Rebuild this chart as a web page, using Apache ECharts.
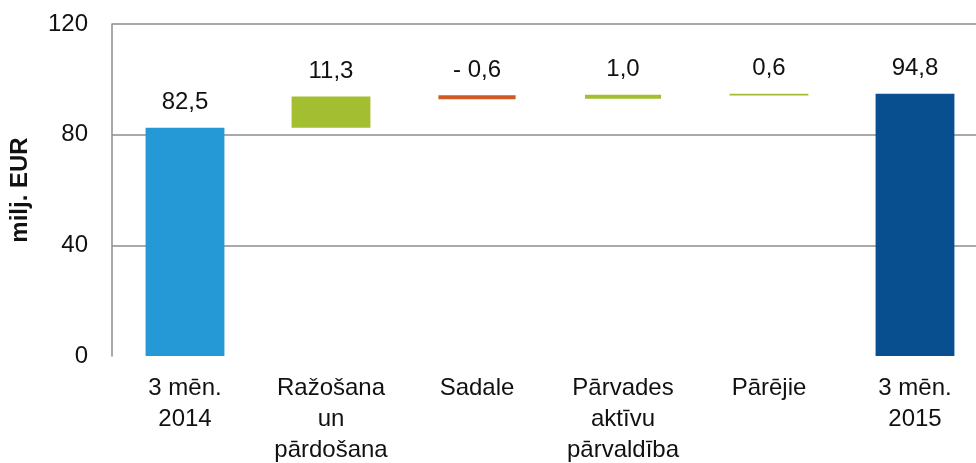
<!DOCTYPE html>
<html>
<head>
<meta charset="utf-8">
<script src="https://cdn.jsdelivr.net/npm/echarts@6/dist/echarts.min.js"></script>
<style>
  html,body{margin:0;padding:0;background:#fff;}
  #chart{width:976px;height:463px;}
</style>
</head>
<body>
<div id="chart"></div>
<script>
// dati
const categories = ['3 mēn.\n2014', 'Ražošana\nun\npārdošana', 'Sadale', 'Pārvades\naktīvu\npārvaldība', 'Pārējie', '3 mēn.\n2015']
const values = [82.5, 11.3, -0.6, 1.0, 0.6, 94.8]
const isTotal = [true, false, false, false, false, true]
const barColors = ['#2499D6', '#A3BE31', '#D05A24', '#A3BE31', '#A3BE31', '#074F8F']
const yTicks = [0, 40, 80, 120]

// mazajiem stabiņiem apmale, lai tie būtu redzami
const thinBorder = [0, 0, 4, 4, 1.5, 0]

// pamatne un redzamā daļa
let running = 0
const baseData = []
const barData = []
values.forEach((v, i) => {
  let base, h
  if (isTotal[i]) {
    base = 0
    h = v
    running = v
  } else if (v >= 0) {
    base = running
    h = v
    running += v
  } else {
    running += v
    base = running
    h = -v
  }
  baseData.push(base)
  barData.push({
    value: h,
    raw: v,
    itemStyle: {
      color: barColors[i],
      borderColor: barColors[i],
      borderWidth: thinBorder[i]
    }
  })
})

function fmt(v){
  const s = Math.abs(v).toFixed(1).replace('.', ',')
  return v < 0 ? '- ' + s : s
}

const chart = echarts.init(document.getElementById('chart'))
const font = 'Liberation Sans, Arial, sans-serif'

chart.setOption({
  animation: false,
  grid: {left: 112, top: 24, width: 876, bottom: 107, outerBoundsMode: 'none', containLabel: false},
  xAxis: {
    type: 'category',
    data: categories,
    axisLine: {show: false},
    axisTick: {show: false},
    axisLabel: {
      color: '#111',
      fontFamily: font,
      fontSize: 24,
      lineHeight: 31,
      margin: 17,
      interval: 0
    }
  },
  yAxis: {
    type: 'value',
    min: yTicks[0],
    max: yTicks[yTicks.length - 1],
    interval: 40,
    name: 'milj. EUR',
    nameLocation: 'middle',
    nameRotate: 90,
    nameGap: 80,
    nameTextStyle: {color: '#111', fontFamily: font, fontSize: 24, fontWeight: 'bold'},
    axisLine: {show: true, lineStyle: {color: '#8c8c8c', width: 1.5}},
    axisTick: {show: false},
    axisLabel: {color: '#111', fontFamily: font, fontSize: 24, margin: 24},
    splitLine: {showMinLine: false, lineStyle: {color: '#8c8c8c', width: 1.5}}
  },
  series: [
    {
      type: 'bar',
      stack: 'wf',
      data: baseData,
      itemStyle: {color: 'transparent'},
      emphasis: {disabled: true},
      barWidth: '54%'
    },
    {
      type: 'bar',
      stack: 'wf',
      data: barData,
      barWidth: '54%',
      label: {
        show: true,
        position: 'top',
        distance: 13,
        color: '#111',
        fontFamily: font,
        fontSize: 24,
        formatter: p => fmt(p.data.raw)
      }
    }
  ]
})
</script>
</body>
</html>
